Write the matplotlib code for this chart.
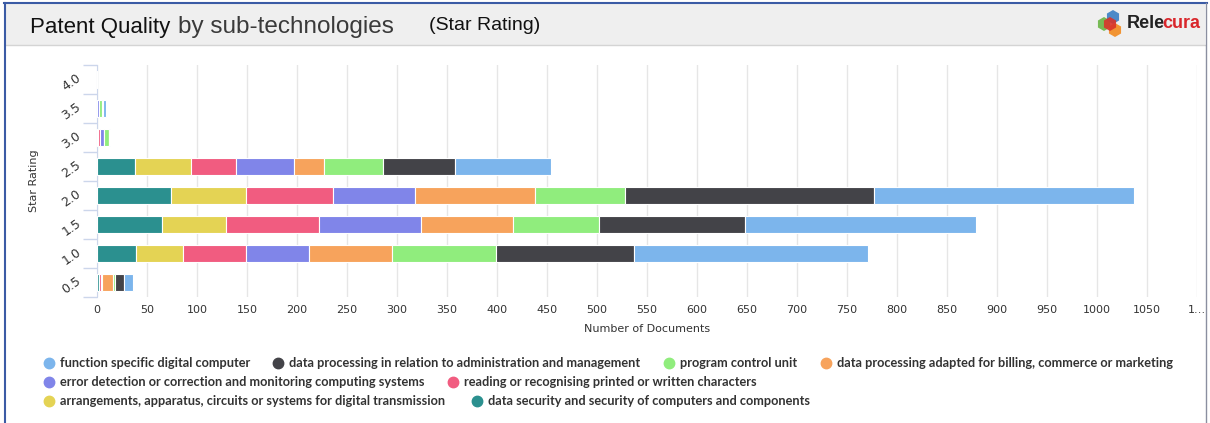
import matplotlib
matplotlib.use('Agg')
import matplotlib.pyplot as plt
from matplotlib.patches import Rectangle, RegularPolygon
import numpy as np

# star rating categories, bottom to top
ratings = ['0.5', '1.0', '1.5', '2.0', '2.5', '3.0', '3.5', '4.0']

# stacked from the left, same order as drawn
data_security = [2, 39, 65, 74, 38, 0, 0, 0]
arrangements = [0, 47, 64, 75, 56, 1, 0, 0]
reading = [2, 63, 93, 87, 45, 2, 0, 0]
error_detection = [1, 63, 102, 82, 58, 4, 2, 0]
billing = [11, 83, 92, 120, 30, 0, 0, 0]
program_control = [2, 104, 86, 90, 59, 5, 3, 0]
admin = [9, 138, 146, 249, 72, 0, 1, 0]
function_specific = [9, 234, 231, 260, 96, 1, 3, 0]

series = [
    ('data security and security of computers and components', data_security, '#2b908f'),
    ('arrangements, apparatus, circuits or systems for digital transmission', arrangements, '#e4d354'),
    ('reading or recognising printed or written characters', reading, '#f15c80'),
    ('error detection or correction and monitoring computing systems', error_detection, '#8085e9'),
    ('data processing adapted for billing, commerce or marketing', billing, '#f7a35c'),
    ('program control unit', program_control, '#90ed7d'),
    ('data processing in relation to administration and management', admin, '#434348'),
    ('function specific digital computer', function_specific, '#7cb5ec'),
]

x_ticks = list(range(0, 1101, 50))
x_ticklabels = [str(t) for t in x_ticks[:-1]] + ['1…']

W, H = 1210, 423
fig = plt.figure(figsize=(W / 100, H / 100), dpi=100)

# overlay in pixel coords for header, border and legend
ov = fig.add_axes([0, 0, 1, 1], zorder=0)
ov.set_xlim(0, W)
ov.set_ylim(H, 0)
ov.axis('off')
ov.add_patch(Rectangle((5, 4), 1200, 41, facecolor='#efefef', edgecolor='none'))
ov.plot([5, 1205], [45, 45], color='#d4d4d4', lw=1)
ov.plot([5, 5], [3, H], color='#3b5ba5', lw=1.5)
ov.plot([4, 1207], [3, 3], color='#3b5ba5', lw=1.5)
ov.plot([1206, 1206], [3, H], color='#8a8fa0', lw=1)

ov.text(30, 27, 'Patent Quality', fontsize=16, family='Liberation Sans', color='#111111', va='center')
ov.text(178, 27, 'by sub-technologies', fontsize=17.5, family='Liberation Sans', color='#3a3a3a', va='center')
ov.text(429, 26, '(Star Rating)', fontsize=14, family='Liberation Sans', color='#111111', va='center')

# logo
for (cx, cy, col) in [(1104, 24, '#6ab544'), (1113, 17, '#3a7fc4'), (1115, 30, '#f28a1e'), (1110, 24, '#d9342b')]:
    ov.add_patch(RegularPolygon((cx, cy), 6, radius=7, facecolor=col, edgecolor='none', alpha=0.9))
rele = ov.text(1127, 24, 'Rele', fontsize=13, family='Liberation Sans', weight='bold', color='#222222', va='center')
fig.canvas.draw()
bb = rele.get_window_extent().transformed(ov.transData.inverted())
ov.text(bb.x1 - 3, 24, 'cura', fontsize=13, family='Liberation Sans', weight='bold', color='#d9262b', va='center')

ax = fig.add_axes([97 / W, 1 - 297 / H, 1100 / W, 232 / H], zorder=1)
y = np.arange(len(ratings))
left = np.zeros(len(ratings))
for name, vals, col in series:
    ax.barh(y, vals, left=left, height=0.56, color=col, edgecolor='white', linewidth=0.8, zorder=3)
    left += np.array(vals)

ax.set_xlim(0, 1100)
ax.set_ylim(-0.5, len(ratings) - 0.5)
ax.set_xticks(x_ticks)
ax.set_xticklabels(x_ticklabels, fontsize=8, color='#333333')
ax.tick_params(axis='x', length=0, pad=6)
ax.grid(axis='x', color='#e6e6e6', lw=1, zorder=0)
ax.set_yticks(y)
ax.set_yticklabels(ratings, fontsize=9, color='#333333', rotation=35, ha='right', va='baseline',
                   rotation_mode='anchor')
ax.set_yticks(np.arange(-0.5, len(ratings), 1), minor=True)
ax.tick_params(axis='y', which='major', length=0, pad=11)
ax.tick_params(axis='y', which='minor', length=10, color='#ccd6eb', width=1)
for s in ['top', 'right', 'bottom']:
    ax.spines[s].set_visible(False)
ax.spines['left'].set_color('#ccd6eb')
ax.set_xlabel('Number of Documents', fontsize=8, color='#333333', labelpad=6)
ax.set_ylabel('Star Rating', fontsize=8, color='#333333', labelpad=15)

# legend, reversed order, laid out like the original
legend_pos = [(49, 363), (278, 363), (669, 363), (826, 363),
              (49, 382), (453, 382),
              (49, 401), (477, 401)]
for (name, vals, col), (lx, ly) in zip(series[::-1], legend_pos):
    ov.plot(lx, ly, 'o', ms=7.5, color=col)
    ov.text(lx + 11, ly, name, fontsize=9.2, family='Lato', weight='bold', color='#333333', va='center')

fig.savefig('out.png', dpi=100)
